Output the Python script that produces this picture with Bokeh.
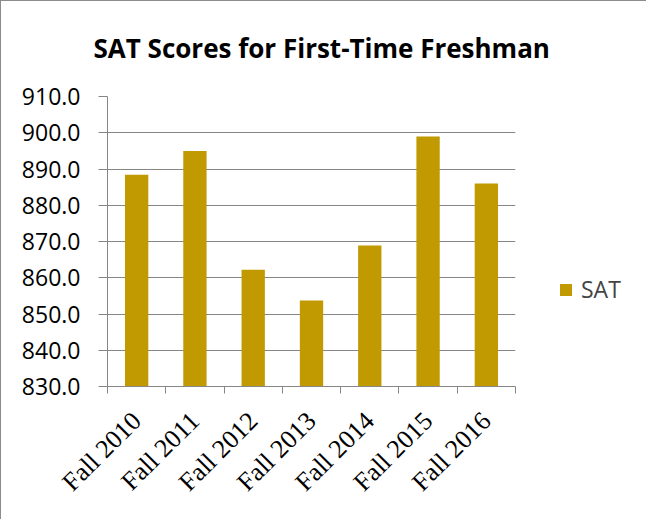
from bokeh.plotting import figure
from bokeh.models import ColumnDataSource, FixedTicker, Legend, LegendItem, Range1d, NumeralTickFormatter
from bokeh.embed import file_html
from bokeh.resources import INLINE
import math

categories = ["Fall 2010", "Fall 2011", "Fall 2012", "Fall 2013", "Fall 2014", "Fall 2015", "Fall 2016"]
sat = [888.4, 895.0, 862.2, 853.7, 868.9, 899.0, 886.0]
y_ticks = [830, 840, 850, 860, 870, 880, 890, 900, 910]

xpos = [i + 0.5 for i in range(len(categories))]
bounds = list(range(len(categories) + 1))
src = ColumnDataSource(dict(x=xpos, top=sat, cat=categories))

GOLD = "#C09A00"
GRAY = "#868686"

p = figure(output_backend="svg", toolbar_location=None,
           frame_width=408, frame_height=290,
           min_border_left=106, min_border_right=130, min_border_top=94, min_border_bottom=133,
           x_range=Range1d(0, len(categories)), y_range=Range1d(830, 910),
           title="SAT Scores for First-Time Freshman")
p.styles = {"border": "1px solid #8c8c8c"}

r = p.vbar(x="x", top="top", bottom=830, width=0.4, source=src,
           fill_color=GOLD, line_color=None)

p.title.align = "left"
p.title.vertical_align = "top"
p.title.text_font = "Open Sans"
p.title.text_font_style = "bold"
p.title.text_font_size = "26px"
p.title.text_color = "black"
p.title.standoff = 57
p.title.offset = -14

p.outline_line_color = None
p.xgrid.grid_line_color = None
p.ygrid.grid_line_color = GRAY
p.ygrid.ticker = FixedTicker(ticks=y_ticks)

ya = p.yaxis[0]
ya.ticker = FixedTicker(ticks=y_ticks)
ya.formatter = NumeralTickFormatter(format="0.0")
ya.axis_line_color = GRAY
ya.major_tick_line_color = GRAY
ya.major_tick_out = 9
ya.major_tick_in = 0
ya.minor_tick_line_color = None
ya.major_label_text_font = "Open Sans"
ya.major_label_text_font_size = "23px"
ya.major_label_text_color = "black"
ya.major_label_standoff = 18

xa = p.xaxis[0]
xa.ticker = FixedTicker(ticks=xpos, minor_ticks=bounds)
xa.major_label_overrides = {x: c for x, c in zip(xpos, categories)}
xa.axis_line_color = GRAY
xa.major_tick_line_color = None
xa.major_tick_out = 0
xa.major_tick_in = 0
xa.minor_tick_line_color = GRAY
xa.minor_tick_out = 7
xa.minor_tick_in = 0
xa.major_label_orientation = math.pi / 4
xa.major_label_text_font = "Liberation Serif"
xa.major_label_text_font_size = "26px"
xa.major_label_text_color = "black"
xa.major_label_standoff = 23

legend = Legend(items=[LegendItem(label="SAT", renderers=[r])],
                location=(43, 81), padding=0, margin=0,
                glyph_width=15, glyph_height=15, label_standoff=8,
                label_text_font="Open Sans", label_text_font_size="23px",
                border_line_color=None, background_fill_alpha=0)
p.add_layout(legend, "right")

open("out.html", "w").write(file_html(p, INLINE))
